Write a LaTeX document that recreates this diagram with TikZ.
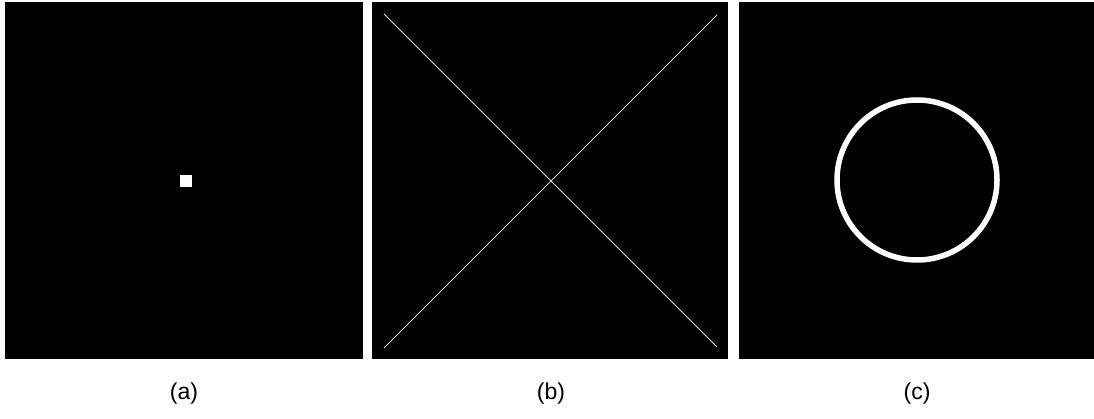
\documentclass[tikz,border=0pt]{standalone}
\usepackage{fontspec}
\setmainfont{Liberation Sans}
\usetikzlibrary{positioning}
\tikzset{
  impanel/.style={
    rectangle, fill=black, draw=none, inner sep=0pt, outer sep=0pt,
    minimum width=357pt, minimum height=357pt, anchor=north west
  },
  imdot/.style={rectangle, fill=white, draw=none, inner sep=0pt, minimum size=12pt},
  imline/.style={draw=white!85!black, line width=0.9pt},
  imring/.style={draw=white, line width=5.5pt},
  imlabel/.style={font=\fontsize{23}{27}\selectfont, text=black, inner sep=1pt}
}

\begin{document}
\begin{tikzpicture}[x=1pt,y=-1pt]
\useasboundingbox (0,0) rectangle (1094,419);
% three test images: impulse, diagonal lines, ring
\node[impanel,minimum width=358pt] (pa) at (5,2) {};
\node[impanel,minimum width=356pt] (pb) at (372,2) {};
\node[impanel,minimum width=355pt] (pc) at (739,2) {};

\node[imdot] (dot) at (186,181) {};

\coordinate (xtl) at (384,14);
\coordinate (xtr) at (717,15);
\coordinate (xbl) at (384,348);
\coordinate (xbr) at (717,347);
\draw[imline] (xtl) -- (xbr);
\draw[imline] (xbl) -- (xtr);

\coordinate (rc) at (917,180);
\draw[imring] (rc) circle (80);

\node[imlabel] (la) at (184,394) {(a)};
\node[imlabel] (lb) at (551,394) {(b)};
\node[imlabel] (lc) at (917,394) {(c)};
\end{tikzpicture}
\end{document}
